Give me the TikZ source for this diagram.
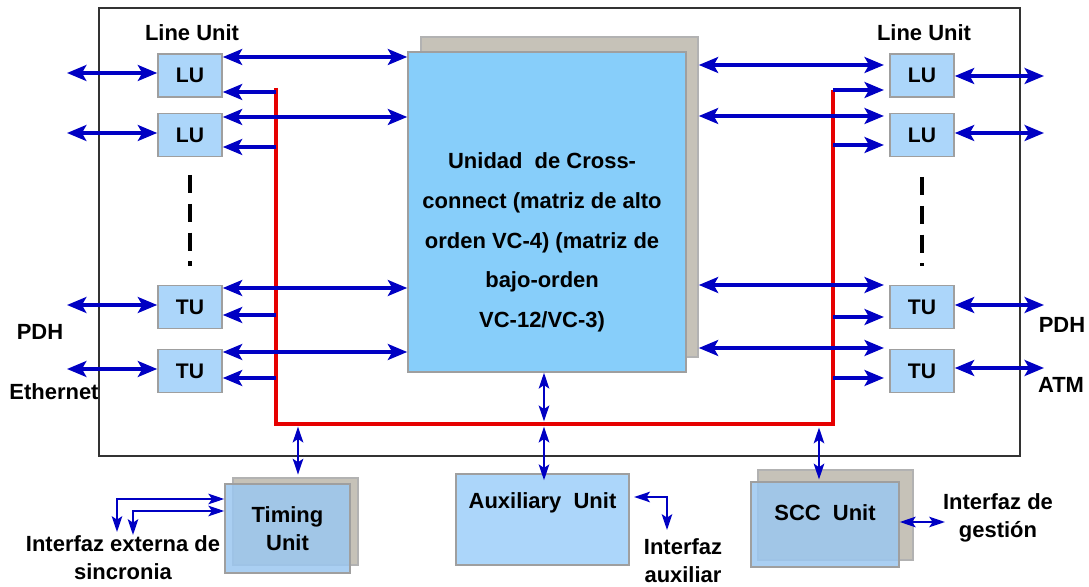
\documentclass[tikz,border=0pt]{standalone}
\usepackage{fontspec}
\setmainfont{Liberation Sans}
\usetikzlibrary{arrows.meta}
\definecolor{unitblue}{RGB}{172,214,250}
\definecolor{xcblue}{RGB}{135,206,250}
\definecolor{cardblue}{RGB}{155,199,240}
\definecolor{backgray}{RGB}{198,194,184}
\definecolor{linkblue}{RGB}{0,0,195}
\definecolor{busred}{RGB}{230,0,0}
\begin{document}
\begin{tikzpicture}[x=0.02cm,y=-0.02cm,
                font=\bfseries\fontsize{12.5}{16}\selectfont,
                unit/.style = {draw=gray!75,line width=0.9pt,fill=unitblue,inner sep=0pt},
                lu/.style = {unit,minimum width=1.28cm,minimum height=0.86cm,
                             font=\bfseries\fontsize{12}{14}\selectfont},
                back/.style = {draw=gray!60,line width=0.9pt,fill=backgray,inner sep=0pt},
                card/.style = {draw=gray!75,line width=0.9pt,fill=cardblue,fill opacity=0.85,
                               text opacity=1,inner sep=0pt,align=center},
                link/.style = {linkblue,line width=2.1pt,>={Stealth[length=11pt,width=9pt,inset=2.5pt]}},
                thinlink/.style = {linkblue,line width=1.2pt,>={Stealth[length=9pt,width=6pt,inset=2pt]}},
                bus/.style = {busred,line width=2pt},
                vdash/.style = {line width=2.3pt,dash pattern=on 10.2pt off 6.2pt}]
                \useasboundingbox (0,0) rectangle (1089,587);

                \draw[line width=1.1pt,black!80] (99,8) rectangle (1020,456);

                % red control bus
                \coordinate (busl) at (276,88);
                \coordinate (busr) at (833,90);
                \coordinate (busbr) at (833,424);
                \draw[bus] (busl) |- (busbr) -- (busr);

                % cross-connect
                \node[back,minimum width=5.54cm,minimum height=6.4cm] (crossback) at (559.5,197) {};
                \node[unit,fill=xcblue,minimum width=5.56cm,minimum height=6.4cm,
                      label={[align=center,xshift=-2.8pt,yshift=-17.3pt,
                              font=\bfseries\fontsize{12.5}{22.7}\selectfont]center:Unidad\ \ de Cross-\\connect (matriz de alto\\orden VC-4) (matriz de\\bajo-orden\\VC-12/VC-3)}]
                    (cross) at (547,212) {};

                % line units
                \node[lu] (lu1) at (190,75.5) {LU};
                \node[lu] (lu2) at (190,135) {LU};
                \node[lu] (tu1) at (190,307) {TU};
                \node[lu] (tu2) at (190,371) {TU};
                \node[lu] (rlu1) at (922,75.5) {LU};
                \node[lu] (rlu2) at (922,135) {LU};
                \node[lu] (rtu1) at (922,307) {TU};
                \node[lu] (rtu2) at (922,371) {TU};

                \node (lineunitl) at (192,33) {Line Unit};
                \node (lineunitr) at (924,33) {Line Unit};

                \draw[vdash] (lu2.south |- 0,175) -- (lu2.south |- 0,266);
                \draw[vdash] (rlu2.south |- 0,177) -- (rlu2.south |- 0,266);

                % left side
                \draw[link,<->] (lu1.east |- 0,57) -- (cross.west |- 0,57);
                \draw[link,<->] (lu2.east |- 0,117) -- (cross.west |- 0,117);
                \draw[link,<->] (tu1.east |- 0,288) -- (cross.west |- 0,288);
                \draw[link,<->] (tu2.east |- 0,352) -- (cross.west |- 0,352);
                \draw[link,->] (busl |- 0,92) -- (lu1.east |- 0,92);
                \draw[link,->] (busl |- 0,147) -- (lu2.east |- 0,147);
                \draw[link,->] (busl |- 0,315) -- (tu1.east |- 0,315);
                \draw[link,->] (busl |- 0,378) -- (tu2.east |- 0,378);

                \coordinate (extl1) at (67,73);
                \coordinate (extl2) at (67,133);
                \coordinate (extl3) at (67,305);
                \coordinate (extl4) at (67,369);
                \draw[link,<->] (extl1) -- (lu1.west |- extl1);
                \draw[link,<->] (extl2) -- (lu2.west |- extl2);
                \draw[link,<->] (extl3) -- (tu1.west |- extl3);
                \draw[link,<->] (extl4) -- (tu2.west |- extl4);

                % right side
                \draw[link,<->,shorten >=3pt] (crossback.east |- 0,65) -- (rlu1.west |- 0,65);
                \draw[link,<->,shorten >=3pt] (crossback.east |- 0,116) -- (rlu2.west |- 0,116);
                \draw[link,<->,shorten >=3pt] (crossback.east |- 0,285) -- (rtu1.west |- 0,285);
                \draw[link,<->,shorten >=3pt] (crossback.east |- 0,348) -- (rtu2.west |- 0,348);
                \draw[link,->,shorten >=3pt] (busr) -- (rlu1.west |- busr);
                \draw[link,->,shorten >=3pt] (busr |- 0,145) -- (rlu2.west |- 0,145);
                \draw[link,->,shorten >=3pt] (busr |- 0,317) -- (rtu1.west |- 0,317);
                \draw[link,->,shorten >=3pt] (busr |- 0,378) -- (rtu2.west |- 0,378);

                \coordinate (extr1) at (1044,76);
                \coordinate (extr2) at (1044,133);
                \coordinate (extr3) at (1044,305);
                \coordinate (extr4) at (1044,368);
                \draw[link,<->] (rlu1.east |- extr1) -- (extr1);
                \draw[link,<->] (rlu2.east |- extr2) -- (extr2);
                \draw[link,<->] (rtu1.east |- extr3) -- (extr3);
                \draw[link,<->] (rtu2.east |- extr4) -- (extr4);

                \node (pdhl) at (40,332) {PDH};
                \node (ethl) at (54,392) {Ethernet};
                \node (pdhr) at (1062,325) {PDH};
                \node (atmr) at (1061,385) {ATM};

                % units below the shelf
                \node[back,minimum width=2.5cm,minimum height=1.74cm] (timingback) at (295.5,521.5) {};
                \node[card,minimum width=2.5cm,minimum height=1.78cm] (timing) at (287.5,528.5) {Timing\\Unit};
                \node[unit,minimum width=3.46cm,minimum height=1.82cm,
                      label={[yshift=9.4pt]center:Auxiliary\ \ Unit}] (aux) at (542.5,519.5) {};
                \node[back,minimum width=3.1cm,minimum height=1.8cm] (sccback) at (835.5,515) {};
                \node[card,minimum width=2.96cm,minimum height=1.7cm,
                      label={[yshift=6.5pt]center:SCC\ \ Unit}] (scc) at (825,524.5) {};

                \coordinate (bustim) at (298,424);
                \coordinate (busaux) at (544,424);
                \coordinate (busscc) at (819,424);
                \draw[thinlink,<->,shorten <=1.5pt,shorten >=1.5pt] (bustim) -- (timingback.north -| bustim);
                \draw[thinlink,<->,shorten >=1.5pt] (cross.south -| busaux) -- (busaux);
                \draw[thinlink,<->,shorten <=1.5pt,shorten >=-4pt] (busaux) -- (aux.north -| busaux);
                \draw[thinlink,<->,shorten <=2pt,shorten >=1pt] (busscc) -- (scc.north -| busscc);

                \coordinate (sync1) at (117,532);
                \coordinate (sync2) at (133,535);
                \draw[thinlink,<->] (sync1) |- (timing.west |- 0,499);
                \draw[thinlink,<->] (sync2) |- (timing.west |- 0,511);
                \coordinate (auxif) at (667,530);
                \draw[thinlink,<->,shorten <=2.5pt] (aux.east |- 0,497) -| (auxif);
                \coordinate (gest) at (945,522);
                \draw[thinlink,<->] (scc.east |- gest) -- (gest);

                \node[align=center] (syncif) at (123,558) {Interfaz externa de\\sincronia};
                \node[align=center] (auxifl) at (683,561) {Interfaz\\auxiliar};
                \node[align=center] (gestif) at (998,517.5) {Interfaz de\\gestión};
            \end{tikzpicture}
\end{document}
